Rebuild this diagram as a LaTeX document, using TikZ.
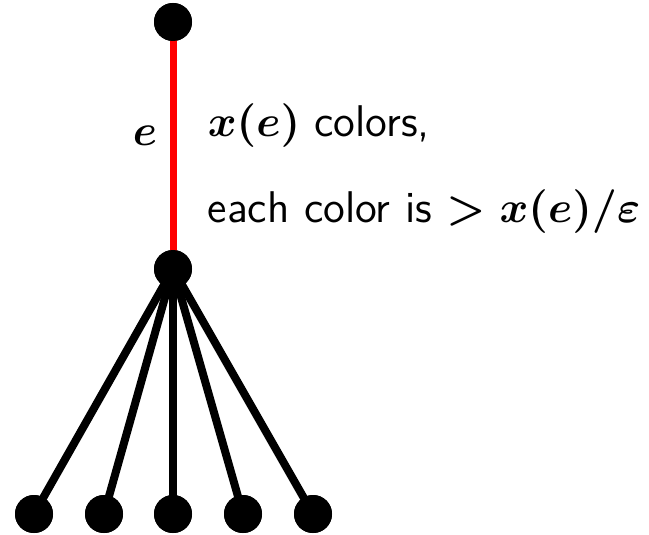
\documentclass[tikz,border=0pt]{standalone}
\usepackage{amsmath,bm}
\renewcommand{\familydefault}{\sfdefault}
\begin{document}
\begin{tikzpicture}[x=0.25pt,y=-0.25pt,
  vtx/.style={circle,fill=black,inner sep=0pt,minimum size=9.5pt},
  edg/.style={line width=2pt,black},
  redg/.style={line width=1.75pt,red},
  lbl/.style={inner sep=0pt,anchor=base west,font=\fontsize{11.1}{13}\selectfont\boldmath}]
\useasboundingbox (0,0) rectangle (649,534);
\node[vtx] (t) at (173,22) {};
\node[vtx] (m) at (173,269) {};
\node[vtx] (b1) at (34,514) {};
\node[vtx] (b2) at (104,514) {};
\node[vtx] (b3) at (173,514) {};
\node[vtx] (b4) at (243,514) {};
\node[vtx] (b5) at (313,514) {};
\draw[redg] (t.center) -- (m.center);
\foreach \b in {b1,b2,b3,b4,b5} \draw[edg] (m.center) -- (\b.center);
\node[vtx] at (m) {};
\node[vtx] at (t) {};
\foreach \b in {b1,b2,b3,b4,b5} \node[vtx] at (\b) {};
\node[lbl,anchor=base] (el) at (145,145) {$e$};
\node[lbl] (l1) at (207,137) {$x(e)$ colors,};
\node[lbl] (l2) at (207,222) {each color is $>x(e)/\varepsilon$};
\end{tikzpicture}
\end{document}
